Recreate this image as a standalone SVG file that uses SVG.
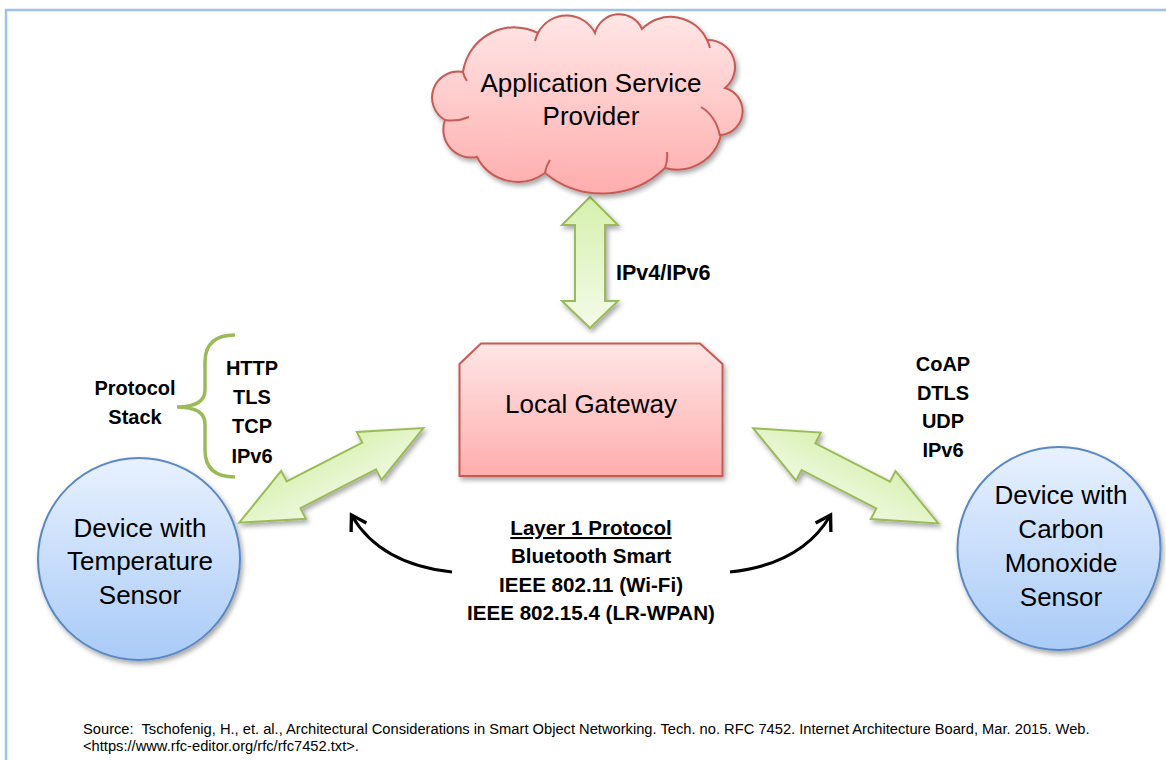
<svg xmlns="http://www.w3.org/2000/svg" width="1166" height="760" viewBox="0 0 1166 760">
<style>
  .lbl { font-family: "Liberation Sans", Arial, sans-serif; font-size: 26px; fill: #000; text-anchor: middle; }
  .bold { font-family: "Liberation Sans", Arial, sans-serif; font-size: 20px; font-weight: bold; fill: #000; text-anchor: middle; }
  .src { font-family: "Liberation Sans", Arial, sans-serif; font-size: 14.7px; fill: #000; }
  .red { stroke: #c65a55; stroke-width: 2; }
  .blue { stroke: #5a88c4; stroke-width: 2; }
  .green { stroke: #9bbb59; stroke-width: 2; stroke-linejoin: miter; }
  .curve { fill: none; stroke: #000; stroke-width: 3; }
</style>
<defs>
  <linearGradient id="gRed" x1="0" y1="0" x2="0" y2="1">
    <stop offset="0" stop-color="#ffe6e6"/>
    <stop offset="1" stop-color="#ffadad"/>
  </linearGradient>
  <linearGradient id="gBlue" x1="0" y1="0" x2="0" y2="1">
    <stop offset="0" stop-color="#e8f1ff"/>
    <stop offset="1" stop-color="#a9cbf7"/>
  </linearGradient>
  <linearGradient id="gGreenV" x1="0" y1="0" x2="0" y2="1">
    <stop offset="0" stop-color="#d6f0ae"/>
    <stop offset="1" stop-color="#f3fbe8"/>
  </linearGradient>
  <linearGradient id="gGreenD" x1="0" y1="0" x2="0" y2="1">
    <stop offset="0" stop-color="#d9f1b3"/>
    <stop offset="1" stop-color="#eef9df"/>
  </linearGradient>
  <filter id="shadow" x="-20%" y="-20%" width="140%" height="140%">
    <feDropShadow dx="2" dy="3" stdDeviation="2.5" flood-color="#000" flood-opacity="0.35"/>
  </filter>
  <marker id="head" markerUnits="userSpaceOnUse" markerWidth="20" markerHeight="20" viewBox="0 0 18 18" refX="15" refY="9" orient="auto" overflow="visible">
    <path d="M3,1 L16,9 L3,17" fill="none" stroke="#000" stroke-width="3"/>
  </marker>
</defs>

<rect x="0" y="0" width="1166" height="760" fill="#fff"/>
<g id="frame">
  <line x1="5" y1="10" x2="1166" y2="10" stroke="#9ec3eb" stroke-width="2.5"/>
  <line x1="6" y1="9" x2="6" y2="760" stroke="#9ec3eb" stroke-width="2.5"/>
</g>

<g id="connectors">
  <g id="arrow-asp-gateway" filter="url(#shadow)">
    <polygon class="green" fill="url(#gGreenV)" points="590,197 618,225 605,225 605,301 618,301 590,328 562,301 575,301 575,225 562,225"/>
  </g>
  <g id="arrow-temp-gateway" filter="url(#shadow)">
    <polygon class="green" fill="url(#gGreenD)" transform="translate(239.3,522.7) rotate(-27.2)" points="0,0 61,-27 61,-15 146,-15 146,-27 207,0 146,27 146,15 61,15 61,27"/>
  </g>
  <g id="arrow-co-gateway" filter="url(#shadow)">
    <polygon class="green" fill="url(#gGreenD)" transform="translate(753.3,428.3) rotate(27.2)" points="0,0 62,-27 62,-15 146,-15 146,-27 208,0 146,27 146,15 62,15 62,27"/>
  </g>
  <path id="curve-left" class="curve" d="M452,572 C415,568 375,555 352,516" marker-end="url(#head)"/>
  <path id="curve-right" class="curve" d="M730,572 C767,568 807,555 830,516" marker-end="url(#head)"/>
</g>

<g id="node-asp">
  <path class="red" fill="url(#gRed)" filter="url(#shadow)" d="M445,120 A26,26 0 0 1 463,72 A52,52 0 0 1 538,33 A32,32 0 0 1 595,33 A25,25 0 0 1 642,29 A40,40 0 0 1 707,40 A27,27 0 0 1 725,88 A24,24 0 0 1 721,135 A45,45 0 0 1 665,168 A90,90 0 0 1 545,173 A46,46 0 0 1 477,157 A28,28 0 0 1 445,120 Z"/>
  <path class="red" fill="none" d="M445,120 Q457,122 469,117 M463,72 Q464,77 467,81 M538,33 Q536,37 535,41 M707,40 Q709,44 710,48 M720,136 Q716,116 701,107 M665,168 Q668,160 667,152 M545,173 Q546,166 550,160"/>
  <text class="lbl" x="591" y="92">Application Service</text>
  <text class="lbl" x="591" y="125">Provider</text>
</g>

<g id="node-gateway">
  <polygon class="red" fill="url(#gRed)" filter="url(#shadow)" points="481,343.5 700,343.5 722.5,364 722.5,476 459.5,476 459.5,364"/>
  <text class="lbl" x="591" y="413">Local Gateway</text>
</g>

<g id="node-temp">
  <circle class="blue" fill="url(#gBlue)" filter="url(#shadow)" cx="139" cy="559" r="101"/>
  <text class="lbl" x="140" y="537">Device with</text>
  <text class="lbl" x="140" y="570">Temperature</text>
  <text class="lbl" x="140" y="604">Sensor</text>
</g>

<g id="node-co">
  <circle class="blue" fill="url(#gBlue)" filter="url(#shadow)" cx="1059" cy="548.5" r="101.5"/>
  <text class="lbl" x="1061" y="504">Device with</text>
  <text class="lbl" x="1061" y="538">Carbon</text>
  <text class="lbl" x="1061" y="572">Monoxide</text>
  <text class="lbl" x="1061" y="606">Sensor</text>
</g>

<g id="label-ipv">
  <text class="bold" x="616" y="280" style="text-anchor:start;font-size:21.5px">IPv4/IPv6</text>
</g>

<g id="stack-left">
  <path d="M235,335 Q205,335 205,362 L205,390 Q205,407 177,407 Q205,407 205,424 L205,450 Q205,477 235,477" fill="none" stroke="#9bbb59" stroke-width="3.5"/>
  <text class="bold" x="135" y="395">Protocol</text>
  <text class="bold" x="135" y="424">Stack</text>
  <text class="bold" x="252" y="375">HTTP</text>
  <text class="bold" x="252" y="404">TLS</text>
  <text class="bold" x="252" y="433">TCP</text>
  <text class="bold" x="252" y="463">IPv6</text>
</g>

<g id="stack-right">
  <text class="bold" x="943" y="371">CoAP</text>
  <text class="bold" x="943" y="400">DTLS</text>
  <text class="bold" x="943" y="428">UDP</text>
  <text class="bold" x="943" y="457">IPv6</text>
</g>

<g id="layer1" style="font-size:20.6px">
  <text class="bold" x="591" y="535" text-decoration="underline" style="font-size:20.6px">Layer 1 Protocol</text>
  <text class="bold" x="591" y="563" style="font-size:20.6px">Bluetooth Smart</text>
  <text class="bold" x="591" y="592" style="font-size:20.6px">IEEE 802.11 (Wi-Fi)</text>
  <text class="bold" x="591" y="620" style="font-size:20.6px">IEEE 802.15.4 (LR-WPAN)</text>
</g>

<g id="source">
  <text class="src" x="83" y="734" xml:space="preserve">Source:  Tschofenig, H., et. al., Architectural Considerations in Smart Object Networking. Tech. no. RFC 7452. Internet Architecture Board, Mar. 2015. Web.</text>
  <text class="src" x="83" y="751">&lt;https://www.rfc-editor.org/rfc/rfc7452.txt&gt;.</text>
</g>
</svg>
